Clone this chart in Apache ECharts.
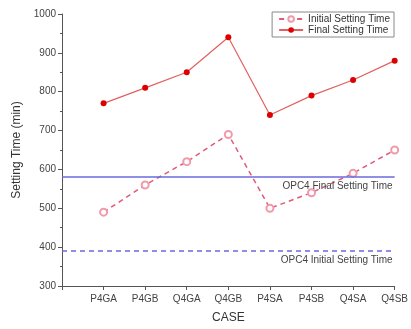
<!DOCTYPE html>
<html>
<head>
<meta charset="utf-8">
<script src="https://cdn.jsdelivr.net/npm/echarts@6/dist/echarts.min.js"></script>
<style>
html, body { margin: 0; padding: 0; background: #fff; }
#container { width: 411px; height: 329px; }
</style>
</head>
<body>
<div id="container"></div>
<script>
var cases = ['P4GA', 'P4GB', 'Q4GA', 'Q4GB', 'P4SA', 'P4SB', 'Q4SA', 'Q4SB'];
var initialTime = [490, 560, 620, 690, 500, 540, 590, 650];
var finalTime = [770, 810, 850, 940, 740, 790, 830, 880];
var opc4Final = 580;
var opc4Initial = 390;

var dom = document.getElementById("container");
var myChart = echarts.init(dom);

function pairs(arr) {
    return arr.map(function (v, i) { return [i + 1, v]; });
}

var option = {
    textStyle: { fontFamily: 'Liberation Sans, Arial, sans-serif' },
    animation: false,
    grid: { left: 62, right: 14, top: 14, bottom: 43 },
    legend: {
        orient: 'vertical',
        right: 17,
        top: 12,
        itemWidth: 24,
        itemHeight: 7,
        itemGap: 1,
        padding: [2, 4, 2, 6],
        borderColor: '#888',
        borderWidth: 1,
        textStyle: { fontSize: 10, color: '#333' },
        data: ['Initial Setting Time', 'Final Setting Time']
    },
    xAxis: {
        type: 'value',
        min: 0,
        max: 8,
        interval: 1,
        name: 'CASE',
        nameLocation: 'middle',
        nameGap: 26,
        nameTextStyle: { fontSize: 12, color: '#333' },
        splitLine: { show: false },
        axisLine: { lineStyle: { color: '#555' } },
        axisTick: { length: 4, lineStyle: { color: '#555' } },
        axisLabel: {
            fontSize: 10,
            color: '#444',
            formatter: function (v) { return cases[v - 1] || ''; }
        }
    },
    yAxis: {
        type: 'value',
        min: 300,
        max: 1000,
        interval: 100,
        name: 'Setting Time (min)',
        nameLocation: 'middle',
        nameGap: 38,
        nameTextStyle: { fontSize: 12, color: '#333' },
        splitLine: { show: false },
        axisLine: { show: true, lineStyle: { color: '#555' } },
        axisTick: { show: true, length: 4, lineStyle: { color: '#555' } },
        minorTick: { show: true, splitNumber: 2, length: 2, lineStyle: { color: '#555' } },
        axisLabel: {
            fontSize: 10,
            color: '#444',
            margin: 6,
            formatter: function (v) { return String(v); }
        }
    },
    series: [
        {
            name: 'Initial Setting Time',
            type: 'line',
            data: pairs(initialTime),
            symbol: 'emptyCircle',
            symbolSize: 7,
            itemStyle: { color: '#f09aaa', borderWidth: 0.8 },
            lineStyle: { color: '#e05a78', width: 1.5, type: [5, 4] },
            markLine: {
                silent: true,
                symbol: 'none',
                data: [{ yAxis: opc4Initial }],
                lineStyle: { color: '#6a6ae0', width: 1.5, type: [5, 4] },
                label: {
                    position: 'insideEndBottom',
                    formatter: 'OPC4 Initial Setting Time',
                    fontSize: 10,
                    color: '#444',
                    distance: [2, 4]
                }
            }
        },
        {
            name: 'Final Setting Time',
            type: 'line',
            data: pairs(finalTime),
            symbol: 'circle',
            symbolSize: 6,
            itemStyle: { color: '#dd0000' },
            lineStyle: { color: '#e26060', width: 1.2 },
            markLine: {
                silent: true,
                symbol: 'none',
                data: [{ yAxis: opc4Final }],
                lineStyle: { color: '#6a6ae0', width: 1.5, type: 'solid' },
                label: {
                    position: 'insideEndBottom',
                    formatter: 'OPC4 Final Setting Time',
                    fontSize: 10,
                    color: '#444',
                    distance: [2, 4]
                }
            }
        }
    ]
};

if (option && typeof option === "object") {
    myChart.setOption(option, true);
}
</script>
</body>
</html>
